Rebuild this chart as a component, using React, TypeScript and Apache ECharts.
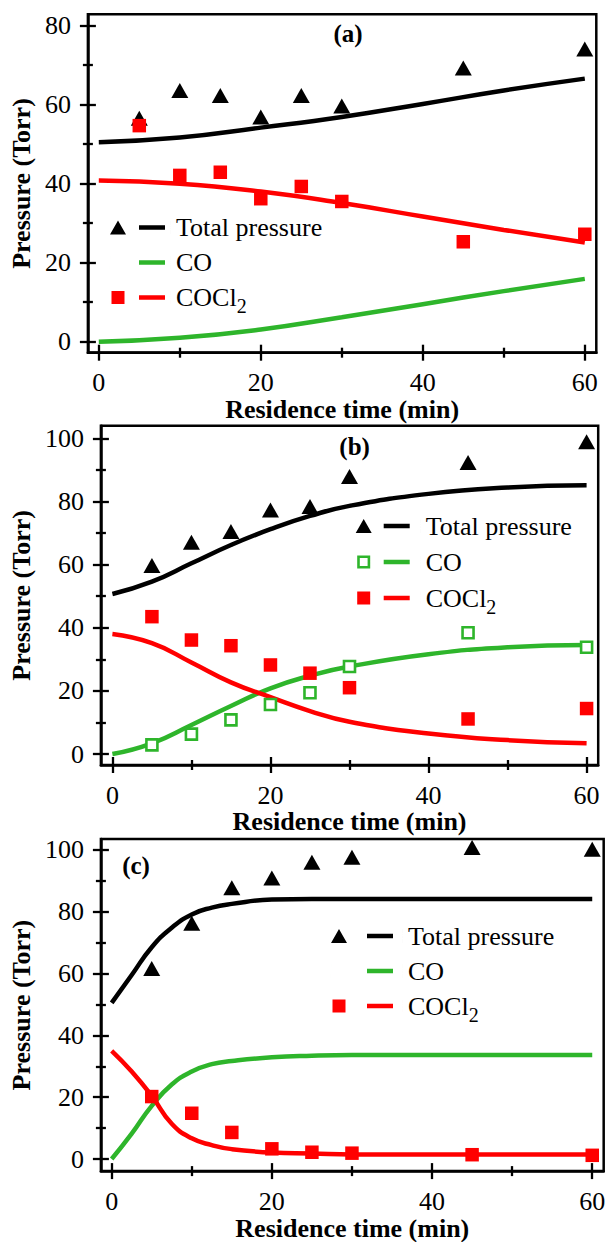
import React, { useEffect, useRef } from 'react';
import * as echarts from 'echarts';

// ---------- data ----------
const measuredTime = [5, 10, 15, 20, 25, 30, 45, 60];

// Panel (a)
const aModelTime = [0, 10, 20, 30, 40, 50, 60];
const aModelTotal = [50.5, 51.7, 54.2, 56.9, 60.2, 63.6, 66.6];
const aModelCO = [0, 1.0, 3.1, 6.2, 9.5, 12.8, 15.9];
const aModelCOCl2 = [40.8, 40.0, 38.0, 35.1, 31.7, 28.3, 25.1];
const aMeasTotal = [56.6, 63.6, 62.3, 56.9, 62.3, 59.7, 69.3, 74.1];
const aMeasCOCl2 = [54.7, 42.1, 42.9, 36.2, 39.3, 35.5, 25.3, 27.2];

// Panel (b)
const bModelTime = [0, 5, 10, 15, 20, 25, 30, 40, 50, 60];
const bModelTotal = [50.7, 54.6, 60.4, 66.2, 71.2, 75.4, 78.6, 82.4, 84.4, 85.1];
const bModelCO = [0, 3.4, 9.2, 15.2, 20.8, 24.8, 27.7, 31.6, 33.8, 34.5];
const bModelCOCl2 = [38.0, 35.1, 29.0, 22.7, 18.0, 13.6, 10.2, 6.5, 4.4, 3.4];
const bMeasTotal = [59.7, 67.1, 70.5, 77.3, 78.4, 87.9, 92.3, 98.9];
const bMeasCO = [2.9, 6.3, 10.8, 15.7, 19.4, 27.7, 38.4, 33.8];
const bMeasCOCl2 = [43.5, 36.1, 34.3, 28.2, 25.6, 21.0, 11.1, 14.4];

// Panel (c)
const cModelTime = [0, 2.5, 5, 7.5, 10, 12.5, 15, 20, 25, 30, 40, 50, 60];
const cModelTotal = [50.5, 59.5, 68.5, 74.8, 79.1, 81.3, 82.5, 83.9, 84.1, 84.1, 84.1, 84.1, 84.1];
const cModelCO = [0, 8.2, 17.2, 24.1, 28.3, 30.7, 31.7, 32.9, 33.4, 33.6, 33.6, 33.6, 33.6];
const cModelCOCl2 = [35.0, 28.3, 20.4, 11.4, 6.7, 4.5, 3.2, 2.1, 1.8, 1.5, 1.5, 1.5, 1.5];
const cMeasTotal = [61.6, 76.2, 87.7, 90.9, 96.0, 97.6, 100.7, 100.2];
const cMeasCOCl2 = [20.2, 14.8, 8.6, 3.3, 2.2, 1.9, 1.4, 1.2];

// ticks
const xMajor = [0, 20, 40, 60];
const xMinor = [10, 30, 50];
const yMajorA = [0, 20, 40, 60, 80];
const yMinorA = [10, 30, 50, 70];
const yMajorB = [0, 20, 40, 60, 80, 100];
const yMinorB = [10, 30, 50, 70, 90];

const panelLabels = ['(a)', '(b)', '(c)'];
const xTitle = 'Residence time (min)';
const yTitle = 'Pressure (Torr)';
const seriesNames = ['Total pressure', 'CO', 'COCl2'];

// ---------- styles ----------
const BLACK = '#000000';
const GREEN = '#2eb52b';
const RED = '#ff0000';
const FONT = '"Liberation Serif", "Times New Roman", serif';

const pairs = (xs: number[], ys: number[]) => xs.map((x, i) => [x, ys[i]]);

type Panel = {
  left: number; top: number; right: number; bottom: number;
  xMin: number; xMax: number; yMin: number; yMax: number;
  yMajor: number[]; yMinor: number[];
  yNameGap: number;
  label: string; labelX: number; labelY: number;
  legendLeft: number; legendTop: number; legendGap: number;
  barStart: number; iconW: number; hasCOMarker: boolean;
  modelTime: number[]; total: number[]; co: number[]; cocl2: number[];
  measTotal: number[]; measCO: number[] | null; measCOCl2: number[];
};

const panels: Panel[] = [
  {
    left: 83, top: 14.3, right: 596.3, bottom: 352.7,
    xMin: -1.345, xMax: 61.42, yMin: -2.785, yMax: 82.886,
    yMajor: yMajorA, yMinor: yMinorA, yNameGap: 49,
    label: panelLabels[0], labelX: 348, labelY: 33,
    legendLeft: 110, legendTop: 214.5, legendGap: 9,
    barStart: 29, iconW: 61, hasCOMarker: false,
    modelTime: aModelTime, total: aModelTotal, co: aModelCO, cocl2: aModelCOCl2,
    measTotal: aMeasTotal, measCO: null, measCOCl2: aMeasCOCl2,
  },
  {
    left: 96.7, top: 425.7, right: 598.2, bottom: 765,
    xMin: -1.455, xMax: 61.468, yMin: -3.484, yMax: 103.99,
    yMajor: yMajorB, yMinor: yMinorB, yNameGap: 62.7,
    label: panelLabels[1], labelX: 354.6, labelY: 446.7,
    legendLeft: 355.7, legendTop: 513, legendGap: 10,
    barStart: 28, iconW: 65, hasCOMarker: true,
    modelTime: bModelTime, total: bModelTotal, co: bModelCO, cocl2: bModelCOCl2,
    measTotal: bMeasTotal, measCO: bMeasCO, measCOCl2: bMeasCOCl2,
  },
  {
    left: 90.7, top: 839, right: 603.7, bottom: 1178,
    xMin: -1.346, xMax: 61.43, yMin: -3.9, yMax: 103.48,
    yMajor: yMajorB, yMinor: yMinorB, yNameGap: 56.7,
    label: panelLabels[2], labelX: 136, labelY: 865,
    legendLeft: 331, legendTop: 923, legendGap: 9,
    barStart: 36, iconW: 72, hasCOMarker: false,
    modelTime: cModelTime, total: cModelTotal, co: cModelCO, cocl2: cModelCOCl2,
    measTotal: cMeasTotal, measCO: null, measCOCl2: cMeasCOCl2,
  },
];

function iconPath(marker: string, barStart: number, W: number) {
  const slivers = `M0,0L0.01,0L0,14Z M${W},0L${W - 0.01},0L${W},14Z`;
  const bar = `M${barStart},4.8H${barStart + 26}V9.2H${barStart}Z`;
  let m = '';
  if (marker === 'triangle') m = 'M0,14L8,0L16,14Z';
  if (marker === 'square') m = 'M1.5,0.5H14.5V13.5H1.5Z';
  if (marker === 'open') m = 'M1.5,0.5H14.5V13.5H1.5Z M4.1,3.1V10.9H11.9V3.1Z';
  return 'path://' + [slivers, m, bar].filter(Boolean).join(' ');
}

const labelStyle = () => ({ fontFamily: FONT, fontSize: 26, color: BLACK });
const nameStyle = () => ({ fontFamily: FONT, fontSize: 26, fontWeight: 'bold', color: BLACK });

function buildOption() {
  const grid: any[] = [];
  const xAxis: any[] = [];
  const yAxis: any[] = [];
  const series: any[] = [];
  const legend: any[] = [];
  const graphic: any[] = [];

  panels.forEach((p, i) => {
    grid.push({
      left: p.left, top: p.top, width: p.right - p.left, height: p.bottom - p.top,
      show: true, borderColor: BLACK, borderWidth: 2.5, backgroundColor: 'transparent',
    });

    const tickDefs = [
      { main: true, inside: false, len: 8, vals: 'major' },
      { main: false, inside: true, len: 8, vals: 'major' },
      { main: false, inside: false, len: 5, vals: 'minor' },
      { main: false, inside: true, len: 5, vals: 'minor' },
    ];

    tickDefs.forEach((t) => {
      const xVals = t.vals === 'major' ? xMajor : xMinor;
      const yVals = t.vals === 'major' ? p.yMajor : p.yMinor;
      xAxis.push({
        type: 'value', gridIndex: i, position: 'bottom', min: p.xMin, max: p.xMax,
        axisLine: { show: t.main, onZero: false, lineStyle: { color: BLACK, width: 2.5 } },
        axisTick: { show: true, inside: t.inside, length: t.len, customValues: xVals, lineStyle: { color: BLACK, width: 2.3 } },
        axisLabel: t.main ? { show: true, customValues: xMajor, margin: 17, ...labelStyle() } : { show: false },
        splitLine: { show: false },
        name: t.main ? xTitle : '',
        nameLocation: 'middle', nameGap: 41, nameTextStyle: nameStyle(),
        silent: true,
      });
      yAxis.push({
        type: 'value', gridIndex: i, position: 'left', min: p.yMin, max: p.yMax,
        axisLine: { show: t.main, onZero: false, lineStyle: { color: BLACK, width: 2.5 } },
        axisTick: { show: true, inside: t.inside, length: t.len, customValues: yVals, lineStyle: { color: BLACK, width: 2.3 } },
        axisLabel: t.main ? { show: true, customValues: p.yMajor, margin: 17, ...labelStyle() } : { show: false },
        splitLine: { show: false },
        name: t.main ? yTitle : '',
        nameLocation: 'middle', nameGap: p.yNameGap, nameTextStyle: nameStyle(),
        silent: true,
      });
    });

    const xi = i * 4;
    const lineCommon = {
      type: 'line', xAxisIndex: xi, yAxisIndex: xi, symbol: 'none', smooth: 0.5,
      silent: true, z: 2,
    };
    series.push({ ...lineCommon, name: seriesNames[0], color: BLACK, lineStyle: { color: BLACK, width: 4.5 }, data: pairs(p.modelTime, p.total) });
    series.push({ ...lineCommon, name: seriesNames[1], color: GREEN, lineStyle: { color: GREEN, width: 4.5 }, data: pairs(p.modelTime, p.co) });
    series.push({ ...lineCommon, name: seriesNames[2], color: RED, lineStyle: { color: RED, width: 4.5 }, data: pairs(p.modelTime, p.cocl2) });

    const scatterCommon = { type: 'scatter', xAxisIndex: xi, yAxisIndex: xi, silent: true, z: 4 };
    series.push({
      ...scatterCommon, name: seriesNames[0] + ' (measured)', symbol: 'triangle', symbolSize: [17, 15],
      itemStyle: { color: BLACK, opacity: 1 }, data: pairs(measuredTime, p.measTotal),
    });
    if (p.measCO) {
      series.push({
        ...scatterCommon, name: seriesNames[1] + ' (measured)', symbol: 'rect', symbolSize: 11,
        itemStyle: { color: '#ffffff', borderColor: GREEN, borderWidth: 2.6, opacity: 1 }, data: pairs(measuredTime, p.measCO),
      });
    }
    series.push({
      ...scatterCommon, name: seriesNames[2] + ' (measured)', symbol: 'rect', symbolSize: 13.5,
      itemStyle: { color: RED, opacity: 1 }, data: pairs(measuredTime, p.measCOCl2),
    });

    legend.push({
      orient: 'vertical', left: p.legendLeft, top: p.legendTop, padding: 0,
      itemGap: p.legendGap, itemWidth: p.iconW, itemHeight: 14, selectedMode: false,
      symbolKeepAspect: true,
      itemStyle: { borderWidth: 0, opacity: 1 },
      data: [
        { name: seriesNames[0], icon: iconPath('triangle', p.barStart, p.iconW) },
        { name: seriesNames[1], icon: iconPath(p.hasCOMarker ? 'open' : '', p.barStart, p.iconW) },
        { name: seriesNames[2], icon: iconPath('square', p.barStart, p.iconW) },
      ],
      formatter: (name: string) => (name === 'COCl2' ? 'COCl{sub|2}' : name),
      textStyle: {
        fontFamily: FONT, fontSize: 26, color: BLACK,
        rich: {
          sub: { fontFamily: FONT, fontSize: 20, color: BLACK, verticalAlign: 'bottom', padding: [17, 0, 0, 0] },
        },
      },
    });

    graphic.push({
      type: 'text', x: p.labelX, y: p.labelY, silent: true,
      style: {
        text: p.label, font: 'bold 25px ' + FONT, fill: BLACK,
        textAlign: 'center', textVerticalAlign: 'middle', align: 'center', verticalAlign: 'middle',
      },
    });
  });

  return {
    animation: false,
    backgroundColor: '#ffffff',
    grid, xAxis, yAxis, series, legend, graphic,
  };
}

export default function App() {
  const ref = useRef<HTMLDivElement>(null);
  useEffect(() => {
    if (!ref.current) return;
    const chart = echarts.init(ref.current, null, { renderer: 'svg' });
    chart.setOption(buildOption() as any);
    return () => chart.dispose();
  }, []);
  return (
    <div
      ref={ref}
      style={{ position: 'absolute', left: 0, top: 0, width: 608, height: 1242, background: '#fff' }}
    />
  );
}
